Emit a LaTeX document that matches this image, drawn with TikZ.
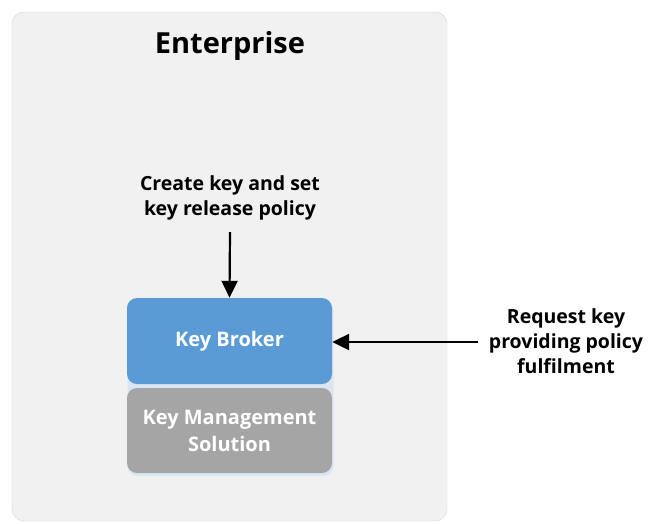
\documentclass[tikz,border=0pt]{standalone}
\usepackage{fontspec}
\setmainfont{Open Sans}
\usetikzlibrary{arrows.meta}
\definecolor{bgfill}{HTML}{F1F1F1}
\definecolor{bgline}{HTML}{D6D6D6}
\definecolor{kbblue}{HTML}{5B9BD5}
\definecolor{kmsgray}{HTML}{A5A5A5}
\definecolor{glow}{HTML}{DCE6F2}
\begin{document}
\begin{tikzpicture}[x=1pt,y=-1pt,
  lbl/.style={font=\bfseries\fontsize{19.5}{25}\selectfont, align=center, text=black, inner sep=0pt},
  boxtxt/.style={font=\bfseries\fontsize{20}{27}\selectfont, align=center, text=white},
  arr/.style={-{Triangle[length=17pt,width=16pt]}, line width=2.2pt}]
\useasboundingbox (0,0) rectangle (650,523);
\fill[white] (0,0) rectangle (650,523);
\draw[bgline, fill=bgfill, rounded corners=12pt] (12,12) rectangle (447,521);
\node[font=\bfseries\fontsize{29}{32}\selectfont] (title) at (230,46) {Enterprise};
\node[lbl] (create) at (230,198) {Create key and set\\key release policy};
\fill[glow, rounded corners=10pt] (127.5,301) rectangle (333.5,476);
\node[draw=none, fill=kbblue, rounded corners=10pt, minimum width=205pt, minimum height=86pt, boxtxt] (kb) at (229.5,341) {Key Broker};
\node[draw=none, fill=kmsgray, rounded corners=10pt, minimum width=205pt, minimum height=85pt, boxtxt] (kms) at (229.5,430.5) {Key Management\\Solution};
\node[lbl] (req) at (566,341) {Request key\\providing policy\\fulfilment};
\coordinate (cs) at (230,232);
\draw[arr] (cs) -- (kb.north);
\coordinate (rs) at (478,342);
\draw[arr] (rs) -- (kb.east |- rs);
\end{tikzpicture}
\end{document}
